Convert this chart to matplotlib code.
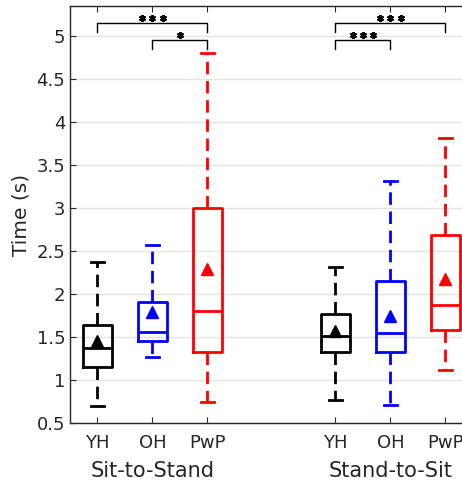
import matplotlib
matplotlib.use("Agg")
import matplotlib.pyplot as plt

groups = ["YH", "OH", "PwP", "YH", "OH", "PwP"]
tasks = ["Sit-to-Stand", "Stand-to-Sit"]
positions = [1, 2, 3, 5.33, 6.33, 7.33]
colors = ["black", "blue", "red", "black", "blue", "red"]

whislo = [0.70, 1.27, 0.75, 0.77, 0.71, 1.12]
q1 = [1.15, 1.45, 1.32, 1.33, 1.32, 1.58]
med = [1.37, 1.56, 1.80, 1.51, 1.55, 1.87]
q3 = [1.64, 1.91, 3.00, 1.77, 2.15, 2.69]
whishi = [2.37, 2.57, 4.80, 2.32, 3.31, 3.82]
means = [1.45, 1.79, 2.29, 1.57, 1.75, 2.18]

# significance: (pos index a, pos index b, bracket y, label)
sig = [(0, 2, 5.15, "***"), (1, 2, 4.95, "*"),
       (3, 5, 5.15, "***"), (3, 4, 4.95, "***")]

fig = plt.figure(figsize=(4.62, 4.87), dpi=100)
ax = fig.add_axes([70/462, (487-423)/487, 1.02 - 70/462, (423-6)/487])

for i in range(len(positions)):
    st = dict(med=med[i], q1=q1[i], q3=q3[i], whislo=whislo[i], whishi=whishi[i],
              mean=means[i], fliers=[])
    c = colors[i]
    ax.bxp([st], positions=[positions[i]], widths=0.52, showmeans=True,
           showfliers=False, capwidths=0.25,
           boxprops=dict(color=c, linewidth=2.0),
           medianprops=dict(color=c, linewidth=2.0),
           whiskerprops=dict(color=c, linewidth=2.0, linestyle=(0, (4.5, 2.4))),
           capprops=dict(color=c, linewidth=2.0),
           meanprops=dict(marker="^", markerfacecolor=c, markeredgecolor=c,
                          markersize=9))

for a, b, y, lab in sig:
    xa, xb = positions[a], positions[b]
    ax.plot([xa, xa, xb, xb], [y - 0.1, y, y, y - 0.1], color="black", lw=1.0,
            clip_on=False)
    n = len(lab)
    xc = (xa + xb) / 2
    xs = [xc + (k - (n - 1) / 2) * 0.185 for k in range(n)]
    ax.plot(xs, [y + 0.06] * n, linestyle="none", marker=(6, 2, 0), markersize=5,
            mew=1.4, color="black", clip_on=False)

ax.set_xlim(0.5, 7.8)
ax.set_ylim(0.5, 5.35)
ax.set_yticks([0.5, 1, 1.5, 2, 2.5, 3, 3.5, 4, 4.5, 5])
ax.set_yticklabels(["0.5", "1", "1.5", "2", "2.5", "3", "3.5", "4", "4.5", "5"])
ax.set_xticks(positions)
ax.set_xticklabels(groups)
ax.tick_params(axis="both", direction="in", labelsize=13, colors="#262626",
               length=4, top=True, width=0.8)
ax.tick_params(axis="x", pad=8)
ax.grid(axis="y", color="#e3e3e3", linewidth=1.0)
ax.set_axisbelow(True)
for s in ax.spines.values():
    s.set_color("#262626")
    s.set_linewidth(1.0)
ax.spines["right"].set_visible(False)
ax.set_ylabel("Time (s)", fontsize=14.5, color="#262626", labelpad=4)

for t, xc in zip(tasks, [2, 6.33]):
    ax.text(xc, -0.092, t, transform=ax.get_xaxis_transform(), ha="center",
            va="top", fontsize=15, color="#262626")

fig.savefig("out.png", dpi=100)
